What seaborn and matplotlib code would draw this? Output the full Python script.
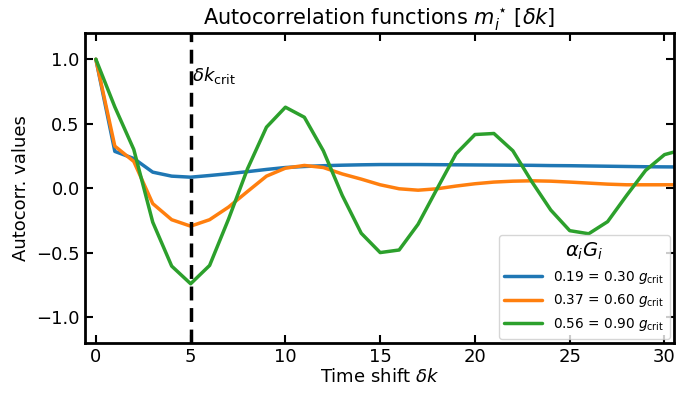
import numpy as np
import pandas as pd
import matplotlib
matplotlib.use("Agg")
import matplotlib.pyplot as plt
import seaborn as sns

lags = list(range(0, 32))
labels = [r"0.19 = 0.30 $g_{\rm crit}$", r"0.37 = 0.60 $g_{\rm crit}$", r"0.56 = 0.90 $g_{\rm crit}$"]
blue = [1.0, 0.285, 0.23, 0.124, 0.093, 0.085, 0.098, 0.112, 0.128, 0.145, 0.160, 0.168, 0.174, 0.178, 0.181, 0.183,
        0.183, 0.183, 0.182, 0.181, 0.180, 0.179, 0.178, 0.177, 0.175, 0.174, 0.172, 0.170, 0.168, 0.166, 0.165, 0.164]
orange = [1.0, 0.326, 0.207, -0.12, -0.245, -0.295, -0.245, -0.147, -0.026, 0.093, 0.155, 0.176, 0.16, 0.11, 0.07, 0.026,
          -0.005, -0.016, -0.005, 0.016, 0.034, 0.047, 0.054, 0.057, 0.054, 0.047, 0.039, 0.031, 0.026, 0.026, 0.026, 0.026]
green = [1.0, 0.63, 0.30, -0.264, -0.605, -0.742, -0.60, -0.24, 0.15, 0.473, 0.628, 0.55, 0.29, -0.057, -0.35, -0.50,
         -0.48, -0.28, -0.005, 0.266, 0.416, 0.424, 0.29, 0.05, -0.17, -0.33, -0.354, -0.26, -0.057, 0.137, 0.26, 0.30]
crit_lag = 5
xticks = [0, 5, 10, 15, 20, 25, 30]
yticks = [-1.0, -0.5, 0.0, 0.5, 1.0]

df = pd.concat([
    pd.DataFrame({"lag": lags, "val": vals, "series": lab})
    for vals, lab in zip([blue, orange, green], labels)
])

sns.set_style("ticks", {"xtick.direction": "in", "ytick.direction": "in",
                        "text.color": "black", "axes.labelcolor": "black",
                        "xtick.color": "black", "ytick.color": "black",
                        "axes.edgecolor": "black"})
plt.rcParams["font.family"] = ["DejaVu Sans"]
plt.rcParams["mathtext.fontset"] = "dejavusans"

fig, ax = plt.subplots(figsize=(6.76, 3.94), dpi=100)
palette = ["#1f77b4", "#ff7f0e", "#2ca02c"]
sns.lineplot(data=df, x="lag", y="val", hue="series", palette=palette, linewidth=2.5, ax=ax)
ax.axvline(crit_lag, color="black", linestyle=(0, (4, 2.2)), linewidth=2.5)
ax.text(crit_lag + 0.05, 0.83, r"$\delta k_{\rm crit}$", fontsize=13, color="black")

ax.set_xlim(-0.6, 30.5)
ax.set_ylim(-1.2, 1.2)
ax.set_xticks(xticks)
ax.set_yticks(yticks)
ax.tick_params(axis="both", which="major", direction="in", top=True, right=True,
               length=6, width=1.5, labelsize=13, colors="black")
for s in ax.spines.values():
    s.set_linewidth(2)
    s.set_color("black")
ax.set_xlabel(r"Time shift $\delta k$", fontsize=13, labelpad=2, color="black")
ax.set_ylabel("Autocorr. values", fontsize=13, color="black")
ax.set_title(r"Autocorrelation functions $m_i^\star\,[\delta k]$", fontsize=15, color="black")

leg = ax.legend(title=r"$\alpha_i G_i$", loc="lower right", fontsize=9.8, title_fontsize=14,
                handlelength=2.8, borderaxespad=0.3, framealpha=0.8)
for t in leg.get_texts():
    t.set_color("black")
leg.get_title().set_color("black")

fig.subplots_adjust(left=0.125, right=0.997, top=0.915, bottom=0.13)
fig.savefig("out.png", dpi=100)
